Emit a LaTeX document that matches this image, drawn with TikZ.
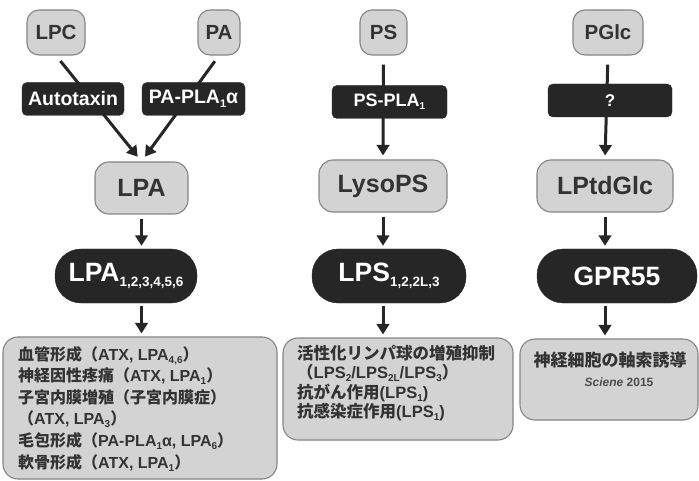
\documentclass[tikz,border=0pt]{standalone}
\usepackage{fontspec}
\setmainfont{Liberation Sans}
\newfontfamily\jp{Noto Sans CJK JP}
\usetikzlibrary{arrows.meta}
\definecolor{boxgray}{HTML}{D3D3D3}
\definecolor{bordgray}{HTML}{858585}
\definecolor{darkbox}{HTML}{262626}
\definecolor{txtgray}{HTML}{333333}
\newcommand\lo[1]{\raisebox{-0.35ex}{\fontsize{10}{10}\selectfont #1}}
\newcommand\J[1]{{\jp\bfseries #1}}
\begin{document}
\begin{tikzpicture}[x=1pt,y=-1pt,
  lbox/.style={draw=bordgray, line width=1.1pt, fill=boxgray, rounded corners=#1,
    inner sep=0pt, text=txtgray, font=\bfseries},
  topbox/.style={lbox=12pt, minimum height=45pt, font=\bfseries\fontsize{20.5}{20.5}\selectfont},
  midbox/.style={lbox=14pt, minimum height=52pt, font=\bfseries\fontsize{25}{25}\selectfont},
  enz/.style={fill=darkbox, draw=darkbox, rounded corners=5pt, inner sep=0pt,
    minimum height=33pt, text=white, font=\bfseries\fontsize{19.5}{19.5}\selectfont},
  pill/.style={fill=darkbox, draw=darkbox, rounded corners=26pt, inner sep=0pt,
    minimum height=54pt, text=white, font=\bfseries\fontsize{26.5}{26.5}\selectfont},
  arr/.style={draw=darkbox, line width=3pt, -{Triangle[width=12.5pt,length=10.5pt]}},
  txt/.style={inner sep=0pt, text=txtgray, font=\bfseries},
]
\useasboundingbox (0,0) rectangle (699,481);
\fill[white] (0,0) rectangle (699,481);

\node[topbox, minimum width=58pt] (LPC) at (56,32.5) {LPC};
\node[topbox, minimum width=42pt] (PA) at (219,32.5) {PA};
\node[topbox, minimum width=47pt] (PS) at (383.5,32.5) {PS};
\node[topbox, minimum width=70pt] (PGlc) at (608,32.5) {PGlc};

\node[midbox, minimum width=93pt] (LPA) at (141.5,188) {LPA};
\node[midbox, minimum width=128pt] (LysoPS) at (383,186) {LysoPS};
\node[midbox, minimum width=136pt] (LPtdGlc) at (605,186) {LPtdGlc};

\draw[arr, shorten <=7pt, shorten >=6pt] (LPC.south) -- (LPA.north);
\draw[arr, shorten <=7pt, shorten >=6pt] (PA.south) -- (LPA.north);
\draw[arr, shorten <=9pt, shorten >=4pt] (PS.south) -- (LysoPS.north);
\draw[arr, shorten <=9pt, shorten >=4pt] (PGlc.south) -- (LPtdGlc.north);

\node[enz, minimum width=102pt] (ATX) at (73,99) {Autotaxin};
\node[enz, minimum width=103pt] (PLA) at (193.5,99) {PA-PLA\lo{\fontsize{11}{11}\selectfont 1}α};
\node[enz, minimum width=115pt] (PSPLA) at (389.5,102) {\fontsize{18}{18}\selectfont PS-PLA\lo{1}};
\node[enz, minimum width=124pt] (Q) at (610,100.5) {\fontsize{17}{17}\selectfont ?};

\node[pill, minimum width=142pt] (LPAR) at (126,276) {LPA\lo{\fontsize{13.5}{13.5}\selectfont 1,2,3,4,5,6}};
\node[pill, minimum width=154pt] (LPSR) at (389,276) {LPS\lo{\fontsize{13.5}{13.5}\selectfont 1,2,2L,3}};
\node[pill, minimum width=160pt] (GPR) at (617,276) {GPR55};

\draw[arr, shorten <=4pt, shorten >=3pt] (LPA.south) -- (LPA.south |- LPAR.north);
\draw[arr, shorten <=4pt, shorten >=3pt] (LysoPS.south) -- (LysoPS.south |- LPSR.north);
\draw[arr, shorten <=4pt, shorten >=3pt] (LPtdGlc.south) -- (LPtdGlc.south |- GPR.north);

\node[lbox=15pt, minimum width=274pt, minimum height=142pt] (Lbox) at (140,408) {};
\node[lbox=15pt, minimum width=230pt, minimum height=102pt] (Mbox) at (398,389) {};
\node[lbox=15pt, minimum width=178pt, minimum height=81pt] (Rbox) at (609,379.5) {};

\draw[arr, shorten <=3pt, shorten >=3pt] (LPA.south |- LPAR.south) -- (LPA.south |- Lbox.north);
\draw[arr, shorten <=3pt, shorten >=3pt] (LysoPS.south |- LPSR.south) -- (LysoPS.south |- Mbox.north);
\draw[arr, shorten <=3pt, shorten >=3pt] (LPtdGlc.south |- GPR.south) -- (LPtdGlc.south |- Rbox.north);

\node[txt, anchor=north west, align=left, font=\bfseries\fontsize{16}{21.6}\selectfont] (Ltxt) at (18,346) {%
\J{血管形成（}ATX, LPA\lo{4,6}\J{）}\\
\J{神経因性疼痛（}ATX, LPA\lo{1}\J{）}\\
\J{子宮内膜増殖（子宮内膜症）}\\
\J{（}ATX, LPA\lo{3}\J{）}\\
\J{毛包形成（}PA-PLA\lo{1}α, LPA\lo{6}\J{）}\\
\J{軟骨形成（}ATX, LPA\lo{1}\J{）}};

\node[txt, anchor=north west, align=left, font=\bfseries\fontsize{16.5}{19.5}\selectfont] (Mtxt) at (297,345) {%
\J{活性化リンパ球の増殖抑制}\\
\J{（}LPS\lo{2}/LPS\lo{2L}/LPS\lo{3}\J{）}\\
\J{抗がん作用}(LPS\lo{1})\\
\J{抗感染症作用}(LPS\lo{1})};

\node[txt, font=\bfseries\fontsize{17}{17}\selectfont] (Rtxt1) at (610,360) {\J{神経細胞の軸索誘導}};
\node[txt, font=\bfseries\fontsize{12}{12}\selectfont, text=black!70] (Rtxt2) at (619,382) {\textit{Sciene} 2015};
\end{tikzpicture}
\end{document}
